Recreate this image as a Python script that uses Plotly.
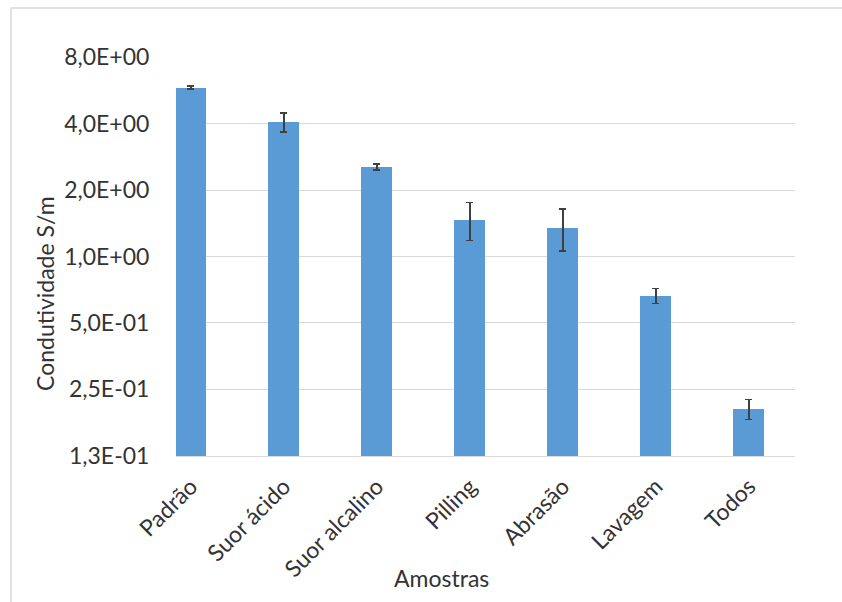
import math
import plotly.graph_objects as go

categories = ["Padrão", "Suor ácido", "Suor alcalino", "Pilling", "Abrasão", "Lavagem", "Todos"]
values = [5.83, 4.07, 2.55, 1.47, 1.35, 0.665, 0.204]
errors = [0.08, 0.40, 0.08, 0.29, 0.29, 0.053, 0.021]
tick_vals = [0.125, 0.25, 0.5, 1, 2, 4, 8]
tick_text = ["1,3E-01", "2,5E-01", "5,0E-01", "1,0E+00", "2,0E+00", "4,0E+00", "8,0E+00"]

FONT = "Lato, Carlito, Calibri, sans-serif"
TXT = "#333333"
FS = 23

fig = go.Figure()
fig.add_trace(go.Bar(
    x=list(range(len(categories))),
    y=values,
    width=0.333,
    marker=dict(color="#5B9BD5", line=dict(width=0)),
    error_y=dict(type="data", array=errors, visible=True,
                 color="#404040", thickness=1.5, width=3.5),
))

W, H = 842, 602
L, R, T, B = 176, 47, 57, 146
pw, ph = W - L - R, H - T - B

fig.update_layout(
    width=W, height=H,
    margin=dict(l=L, r=R, t=T, b=B, pad=0),
    paper_bgcolor="white", plot_bgcolor="white",
    showlegend=False,
    font=dict(family=FONT, size=FS, color=TXT),
    bargap=0,
    xaxis=dict(
        range=[-0.161, 6.495],
        tickmode="array",
        tickvals=list(range(len(categories))),
        ticktext=categories,
        tickangle=-45,
        showgrid=False, zeroline=False,
        showline=True, linecolor="#D9D9D9", linewidth=1,
        ticks="outside", ticklen=7, tickcolor="rgba(0,0,0,0)",
        tickfont=dict(family=FONT, size=FS, color=TXT),
    ),
    yaxis=dict(
        type="log",
        range=[math.log10(0.125) - 0.0008, math.log10(8) + 0.0008],
        tickmode="array",
        tickvals=tick_vals,
        ticktext=tick_text,
        showgrid=True, gridcolor="#D9D9D9", gridwidth=1,
        zeroline=False, showline=False,
        ticks="outside", ticklen=21, tickcolor="rgba(0,0,0,0)",
        tickfont=dict(family=FONT, size=FS, color=TXT),
    ),
)

def px_to_paper_x(px):
    return (px - L) / pw

def py_to_paper_y(py):
    return 1 - (py - T) / ph

# chart border (top and left visible)
fig.add_shape(type="line", xref="paper", yref="paper",
              x0=px_to_paper_x(11), x1=px_to_paper_x(845),
              y0=py_to_paper_y(8), y1=py_to_paper_y(8),
              line=dict(color="#D9D9D9", width=1.5))
fig.add_shape(type="line", xref="paper", yref="paper",
              x0=px_to_paper_x(11), x1=px_to_paper_x(11),
              y0=py_to_paper_y(8), y1=py_to_paper_y(605),
              line=dict(color="#D9D9D9", width=1.5))

fig.add_annotation(text="Condutividade S/m", xref="paper", yref="paper",
                   x=px_to_paper_x(45), y=py_to_paper_y(294),
                   textangle=-90, showarrow=False,
                   xanchor="center", yanchor="middle",
                   font=dict(family=FONT, size=FS, color=TXT))
fig.add_annotation(text="Amostras", xref="paper", yref="paper",
                   x=px_to_paper_x(441), y=py_to_paper_y(578),
                   showarrow=False, xanchor="center", yanchor="middle",
                   font=dict(family=FONT, size=FS, color=TXT))

fig.write_html("out.html")
